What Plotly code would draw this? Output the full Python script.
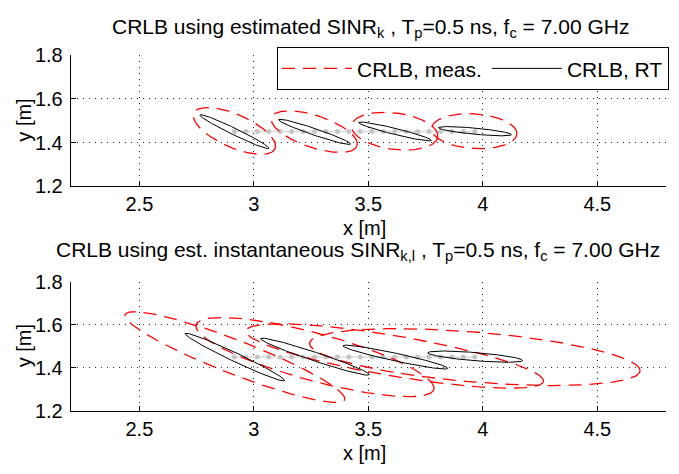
import numpy as np
import plotly.graph_objects as go

W, H = 679, 474
FONT = "Liberation Sans, Arial, Helvetica, sans-serif"

# ---------------- data ----------------
# gray track (positions)
track_x = [2.915, 2.965, 3.015, 3.065, 3.115, 3.165, 3.215, 3.265, 3.315, 3.365, 3.415,
           3.465, 3.515, 3.565, 3.615, 3.665, 3.715, 3.765, 3.815, 3.865, 3.915, 3.965]
track_y = [1.45] * len(track_x)

# ellipse parameters: centre x, centre y, semi-major, semi-minor, angle (deg)
# top panel: CRLB using estimated SINR_k
top_meas_cx = [2.915, 3.264, 3.615, 3.962]
top_meas_cy = [1.453, 1.450, 1.452, 1.452]
top_meas_a = [0.195, 0.1975, 0.190, 0.187]
top_meas_b = [0.075, 0.073, 0.083, 0.079]
top_meas_ang = [-25.0, -19.3, -8.0, -4.0]

top_rt_cx = [2.915, 3.265, 3.616, 3.966]
top_rt_cy = [1.450, 1.449, 1.451, 1.452]
top_rt_a = [0.169, 0.167, 0.164, 0.160]
top_rt_b = [0.015, 0.015, 0.014, 0.014]
top_rt_ang = [-26.9, -19.6, -14.5, -5.7]

# bottom panel: CRLB using est. instantaneous SINR_k,l
bot_meas_cx = [2.917, 3.267, 3.615, 3.965]
bot_meas_cy = [1.450, 1.450, 1.455, 1.450]
bot_meas_a = [0.5185, 0.5405, 0.6605, 0.7246]
bot_meas_b = [0.078, 0.110, 0.0936, 0.116]
bot_meas_ang = [-22.5, -16.2, -10.3, -5.1]

bot_rt_cx = [2.917, 3.267, 3.618, 3.967]
bot_rt_cy = [1.450, 1.452, 1.450, 1.452]
bot_rt_a = [0.243, 0.252, 0.235, 0.208]
bot_rt_b = [0.020, 0.020, 0.018, 0.019]
bot_rt_ang = [-26.8, -19.5, -13.0, -5.0]

x_ticks = [2.5, 3, 3.5, 4, 4.5]
x_ticktext = ["2.5", "3", "3.5", "4", "4.5"]
y_ticks = [1.2, 1.4, 1.6, 1.8]
y_ticktext = ["1.2", "1.4", "1.6", "1.8"]
x_range = [2.2, 4.8]
y_range = [1.2, 1.8]


def ellipse(cx, cy, a, b, ang, n=241):
    t = np.linspace(0, 2 * np.pi, n)
    th = np.deg2rad(ang)
    ex = cx + a * np.cos(t) * np.cos(th) - b * np.sin(t) * np.sin(th)
    ey = cy + a * np.cos(t) * np.sin(th) + b * np.sin(t) * np.cos(th)
    return ex, ey


fig = go.Figure()

RED = dict(color="#ff0000", width=1.3, dash="13px,8px")
BLACK = dict(color="#000000", width=1)


def add_panel(xa, ya, mcx, mcy, ma, mb, mang, rcx, rcy, ra, rb, rang, legend):
    fig.add_trace(go.Scatter(x=track_x, y=track_y, mode="lines+markers",
                             line=dict(color="#dcdcdc", width=1.5),
                             marker=dict(color="#c6c6c6", size=5),
                             xaxis=xa, yaxis=ya, showlegend=False, hoverinfo="skip"))
    for i in range(len(mcx)):
        ex, ey = ellipse(mcx[i], mcy[i], ma[i], mb[i], mang[i])
        fig.add_trace(go.Scatter(x=ex, y=ey, mode="lines", line=RED,
                                 name="CRLB, meas.", legendgroup="meas",
                                 showlegend=(legend and i == 0),
                                 xaxis=xa, yaxis=ya, hoverinfo="skip"))
    for i in range(len(rcx)):
        ex, ey = ellipse(rcx[i], rcy[i], ra[i], rb[i], rang[i])
        fig.add_trace(go.Scatter(x=ex, y=ey, mode="lines", line=BLACK,
                                 name="CRLB, RT", legendgroup="rt",
                                 showlegend=(legend and i == 0),
                                 xaxis=xa, yaxis=ya, hoverinfo="skip"))


add_panel("x", "y", top_meas_cx, top_meas_cy, top_meas_a, top_meas_b, top_meas_ang,
          top_rt_cx, top_rt_cy, top_rt_a, top_rt_b, top_rt_ang, True)
add_panel("x2", "y2", bot_meas_cx, bot_meas_cy, bot_meas_a, bot_meas_b, bot_meas_ang,
          bot_rt_cx, bot_rt_cy, bot_rt_a, bot_rt_b, bot_rt_ang, False)


def px_x(p):
    return p / W


def px_y(p):
    return 1 - p / H


FS = 20
xdom = [px_x(70.7), px_x(666)]
axis_common = dict(showline=True, linecolor="black", linewidth=1, mirror=False,
                   ticks="inside", ticklen=5, tickcolor="black", tickwidth=1,
                   showgrid=True, gridcolor="rgba(0,0,0,0.85)", gridwidth=1,
                   griddash="1px,5px", zeroline=False,
                   tickfont=dict(family=FONT, size=FS, color="black"))

fig.update_layout(
    width=W, height=H, margin=dict(l=0, r=0, t=0, b=0),
    paper_bgcolor="white", plot_bgcolor="white",
    font=dict(family=FONT, size=FS, color="black"),
    xaxis=dict(domain=xdom, range=x_range, anchor="y", tickvals=x_ticks,
               ticktext=x_ticktext, ticklabelstandoff=0, **axis_common),
    yaxis=dict(domain=[px_y(184), px_y(46)], range=y_range, anchor="x",
               tickvals=y_ticks, ticktext=y_ticktext, ticklabelstandoff=3, **axis_common),
    xaxis2=dict(domain=xdom, range=x_range, anchor="y2", tickvals=x_ticks,
                ticktext=x_ticktext, ticklabelstandoff=0, **axis_common),
    yaxis2=dict(domain=[px_y(419.3), px_y(284)], range=y_range, anchor="x2",
                tickvals=y_ticks, ticktext=y_ticktext, ticklabelstandoff=3, **axis_common),
    legend=dict(orientation="h", x=px_x(277), y=px_y(38), xanchor="left", yanchor="top",
                bgcolor="white", bordercolor="black", borderwidth=1,
                font=dict(family=FONT, size=21, color="black"),
                itemwidth=70, tracegroupgap=0),
    showlegend=True,
)

ann = []
ann.append(dict(text="CRLB using estimated SINR<sub>k</sub> , T<sub>p</sub>=0.5 ns, f<sub>c</sub> = 7.00 GHz",
                x=px_x(371), y=px_y(18), xref="paper", yref="paper",
                xanchor="center", yanchor="middle", showarrow=False,
                font=dict(family=FONT, size=21, color="black")))
ann.append(dict(text="CRLB using est. instantaneous SINR<sub>k,l</sub> , T<sub>p</sub>=0.5 ns, f<sub>c</sub> = 7.00 GHz",
                x=px_x(358), y=px_y(252), xref="paper", yref="paper",
                xanchor="center", yanchor="middle", showarrow=False,
                font=dict(family=FONT, size=21, color="black")))
for yc in [115, 351.6]:
    ann.append(dict(text="y [m]", x=px_x(24), y=px_y(yc), xref="paper", yref="paper",
                    xanchor="center", yanchor="middle", textangle=-90, showarrow=False,
                    font=dict(family=FONT, size=FS, color="black")))
for yc in [228, 463]:
    ann.append(dict(text="x [m]", x=px_x(364), y=px_y(yc), xref="paper", yref="paper",
                    xanchor="center", yanchor="middle", showarrow=False,
                    font=dict(family=FONT, size=FS, color="black")))
fig.update_layout(annotations=ann)

fig.write_html("out.html")
